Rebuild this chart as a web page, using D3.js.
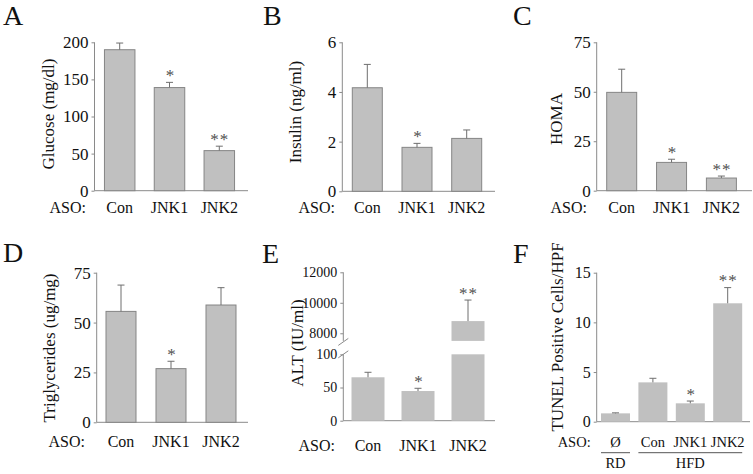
<!DOCTYPE html>
<html><head><meta charset="utf-8">
<script src="https://cdn.jsdelivr.net/npm/d3@7"></script>
<style>body{margin:0;background:#fff}svg{display:block}svg text{font-family:"Liberation Serif","Times New Roman",serif !important}</style>
</head><body>
<svg id="chart" width="753" height="474"></svg>
<script>
// ---------- DATA ----------
const catsASO = ["Con", "JNK1", "JNK2"];
const catsF = ["Ø", "Con", "JNK1", "JNK2"];

const glucose = [190, 139, 54];
const glucoseErr = [9, 7, 6];
const glucoseSig = ["", "*", "**"];
const glucoseTicks = [0, 50, 100, 150, 200];

const insulin = [4.17, 1.77, 2.13];
const insulinErr = [0.94, 0.16, 0.34];
const insulinSig = ["", "*", ""];
const insulinTicks = [0, 2, 4, 6];

const homa = [49.7, 14.3, 6.4];
const homaErr = [11.7, 1.6, 1.0];
const homaSig = ["", "*", "**"];
const homaTicks = [0, 25, 50, 75];

const trig = [55.6, 26.9, 58.8];
const trigErr = [13.2, 3.7, 8.7];
const trigSig = ["", "*", ""];
const trigTicks = [0, 25, 50, 75];

const alt = [65.4, 44.7, 8800];
const altErr = [7.5, 4.1, 1380];
const altSig = ["", "*", "**"];
const altTicksLow = [0, 50, 100];
const altTicksHigh = [8000, 10000, 12000];

const tunel = [0.84, 3.96, 1.85, 11.92];
const tunelErr = [0.05, 0.41, 0.23, 1.58];
const tunelSig = ["", "", "*", "**"];
const tunelTicks = [0, 5, 10, 15];
const tunelGroups = [{label: "RD", from: "Ø", to: "Ø"}, {label: "HFD", from: "Con", to: "JNK2"}];

// ---------- STYLE ----------
const FONT = "Liberation Serif";
const FILL = "#c0c0c0", EDGE = "#858585", AXIS = "#8a8a8a", ERR = "#6e6e6e", STAR = "#505050", TXT = "#111";
const svg = d3.select("#chart");

function txt(g) { return g.append("text").attr("font-family", FONT).attr("fill", TXT); }

function panel(o) {
  const g = svg.append("g");
  const n = o.cats.length;
  const p = 1 - o.bw / o.step;
  const x = d3.scaleBand().domain(o.cats)
    .range([o.c0 - o.step / 2, o.c0 - o.step / 2 + n * o.step])
    .paddingInner(p).paddingOuter(p / 2);

  txt(g).attr("x", o.letterX).attr("y", o.letterY).attr("font-size", 28).text(o.letter);

  txt(g).attr("transform", `translate(${o.titleX},${o.titleY}) rotate(-90)`)
    .attr("text-anchor", "middle").attr("dominant-baseline", "central")
    .attr("font-size", o.titleSize || 17).text(o.title);

  o.segments.forEach(s => {
    const ax = g.append("g").attr("transform", `translate(${o.axisX},0)`)
      .call(d3.axisLeft(s.y).tickValues(s.ticks).tickSize(3).tickPadding(3).tickFormat(d3.format("d")));
    ax.attr("font-family", FONT);
    ax.select(".domain").remove();
    ax.selectAll(".tick line").attr("stroke", AXIS);
    ax.selectAll(".tick text").attr("font-size", o.tickSize || 17).attr("fill", TXT).attr("font-family", FONT);
    const r = s.y.range();
    g.append("line").attr("x1", o.axisX).attr("x2", o.axisX)
      .attr("y1", s.y(s.ticks[s.ticks.length - 1])).attr("y2", r[0])
      .attr("stroke", AXIS);
  });
  const base = o.segments[0].y;
  g.append("line").attr("x1", o.axisX).attr("x2", o.xEnd).attr("y1", base(0)).attr("y2", base(0)).attr("stroke", AXIS);

  o.cats.forEach((c, i) => {
    const v = o.values[i], e = o.err[i];
    let topY, errY;
    if (o.high && v > o.high.threshold) {
      g.append("rect").attr("x", x(c)).attr("width", x.bandwidth())
        .attr("y", base(o.high.lowMax)).attr("height", base(0) - base(o.high.lowMax))
        .attr("fill", FILL).attr("stroke", o.edge ? EDGE : "none");
      const hy = o.high.y;
      g.append("rect").attr("x", x(c)).attr("width", x.bandwidth())
        .attr("y", hy(v)).attr("height", hy.range()[0] - hy(v))
        .attr("fill", FILL).attr("stroke", o.edge ? EDGE : "none");
      topY = hy(v); errY = hy(v + e);
    } else {
      g.append("rect").attr("x", x(c)).attr("width", x.bandwidth())
        .attr("y", base(v)).attr("height", base(0) - base(v))
        .attr("fill", FILL).attr("stroke", o.edge ? EDGE : "none");
      topY = base(v); errY = base(v + e);
    }
    const cx = x(c) + x.bandwidth() / 2;
    g.append("line").attr("x1", cx).attr("x2", cx).attr("y1", topY).attr("y2", errY).attr("stroke", ERR);
    g.append("line").attr("x1", cx - 3.5).attr("x2", cx + 3.5).attr("y1", errY).attr("y2", errY).attr("stroke", ERR);
    if (o.sig[i]) {
      txt(g).attr("x", cx + 0.5).attr("y", errY - 1.5).attr("text-anchor", "middle")
        .attr("font-size", 17).attr("fill", STAR).attr("letter-spacing", o.sig[i].length > 1 ? 1 : 0)
        .text(o.sig[i]);
    }
    txt(g).attr("x", cx).attr("y", o.labelY).attr("text-anchor", "middle")
      .attr("font-size", o.labelSize || 16).text(c);
  });
  txt(g).attr("x", o.asoRight).attr("y", o.labelY).attr("text-anchor", "end")
    .attr("font-size", o.labelSize || 16).text("ASO:");

  if (o.high) {
    const hy = o.high.y;
    [hy.range()[0] + 1, base(o.high.lowMax)].forEach(yy => {
      g.append("line").attr("x1", o.axisX - 5).attr("x2", o.axisX + 5)
        .attr("y1", yy + 3.5).attr("y2", yy - 3.5).attr("stroke", AXIS);
    });
  }

  if (o.groups) {
    o.groups.forEach(gr => {
      const x1 = x(gr.from), x2 = x(gr.to) + x.bandwidth();
      g.append("line").attr("x1", x1).attr("x2", x2).attr("y1", o.groupLineY).attr("y2", o.groupLineY).attr("stroke", "#555");
      txt(g).attr("x", (x1 + x2) / 2).attr("y", o.groupTextY).attr("text-anchor", "middle")
        .attr("font-size", o.labelSize || 16).text(gr.label);
    });
  }
}

panel({letter: "A", letterX: 3, letterY: 25, title: "Glucose (mg/dl)", titleX: 48.5, titleY: 114,
  cats: catsASO, values: glucose, err: glucoseErr, sig: glucoseSig, edge: true,
  axisX: 94.5, c0: 119.7, step: 49.8, bw: 30.5, xEnd: 248, labelY: 213, asoRight: 86,
  segments: [{y: d3.scaleLinear().domain([0, 200]).range([190.7, 42.3]), ticks: glucoseTicks}]});

panel({letter: "B", letterX: 263, letterY: 25, title: "Insulin (ng/ml)", titleX: 295.6, titleY: 112,
  cats: catsASO, values: insulin, err: insulinErr, sig: insulinSig, edge: true,
  axisX: 342.3, c0: 367.3, step: 49.7, bw: 30, xEnd: 495, labelY: 213, asoRight: 335,
  segments: [{y: d3.scaleLinear().domain([0, 6]).range([191.3, 42.3]), ticks: insulinTicks}]});

panel({letter: "C", letterX: 513, letterY: 25, title: "HOMA", titleX: 556.7, titleY: 119,
  cats: catsASO, values: homa, err: homaErr, sig: homaSig, edge: true,
  axisX: 596.7, c0: 621.7, step: 49.85, bw: 30, xEnd: 752, labelY: 213, asoRight: 587,
  segments: [{y: d3.scaleLinear().domain([0, 75]).range([190.7, 42.3]), ticks: homaTicks}]});

panel({letter: "D", letterX: 3, letterY: 262, title: "Triglycerides (ug/mg)", titleX: 49, titleY: 348,
  cats: catsASO, values: trig, err: trigErr, sig: trigSig, edge: true,
  axisX: 96.7, c0: 121, step: 50, bw: 30, xEnd: 248, labelY: 446.7, asoRight: 85,
  segments: [{y: d3.scaleLinear().domain([0, 75]).range([422.3, 272.7]), ticks: trigTicks}]});

const altHigh = d3.scaleLinear().domain([7500, 12000]).range([340.9, 272.3]);
panel({letter: "E", letterX: 262, letterY: 263, title: "ALT (IU/ml)", titleX: 297, titleY: 343,
  cats: catsASO, values: alt, err: altErr, sig: altSig, edge: false, tickSize: 14,
  axisX: 343.3, c0: 368, step: 50, bw: 33, xEnd: 495, labelY: 451, asoRight: 335,
  high: {threshold: 100, lowMax: 100, y: altHigh},
  segments: [{y: d3.scaleLinear().domain([0, 100]).range([420.7, 354.3]), ticks: altTicksLow},
             {y: altHigh, ticks: altTicksHigh}]});

panel({letter: "F", letterX: 513, letterY: 263, title: "TUNEL Positive Cells/HPF", titleX: 557, titleY: 337, titleSize: 17,
  cats: catsF, values: tunel, err: tunelErr, sig: tunelSig, edge: false, labelSize: 14.5, tickSize: 16,
  axisX: 596.7, c0: 615.5, step: 37.4, bw: 29, xEnd: 750, labelY: 446.7, asoRight: 590.7,
  groups: tunelGroups, groupLineY: 452.7, groupTextY: 468,
  segments: [{y: d3.scaleLinear().domain([0, 15]).range([421.7, 272.7]), ticks: tunelTicks}]});
</script>
</body></html>
